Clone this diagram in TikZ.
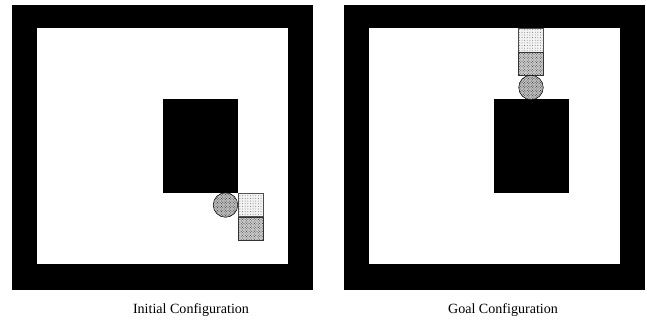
\documentclass[tikz,border=0pt]{standalone}
\usepackage{fontspec}
\setmainfont{Liberation Serif}
\usetikzlibrary{patterns}
\tikzset{
	wall/.style={fill=black,minimum width=3cm,minimum height=3.76cm,inner sep=0pt,outer sep=0pt},
	darkbox/.style={draw=black!80,fill=black!20,pattern color=black!80,minimum width=1cm,minimum height=0.94cm,inner sep=0pt,line width=0.6pt,postaction={pattern=crosshatch dots}},
	lightbox/.style={draw=black!70,fill=black!5,pattern color=black!60,minimum width=1cm,minimum height=0.94cm,inner sep=0pt,line width=0.6pt,postaction={pattern=dots}},
	ball/.style={draw=black,fill=black!25,pattern color=black!85,circle,inner sep=0pt,minimum size=0.98cm,line width=0.6pt,postaction={pattern=crosshatch dots}},
	caption/.style={font=\fontsize{16}{18}\selectfont,inner sep=0pt}
}
\begin{document}
\begin{tikzpicture}[x=0.04cm,y=-0.04cm]
	\useasboundingbox (0,0) rectangle (647,325);

	%Left room
	\fill[black] (12,5) rectangle (313,290);
	\fill[white] (37,28) rectangle (288,264);
	\node[wall] (ObstacleL) at (200.5,146) {};
	\node[lightbox] (TopL) at (250.5,205) {};
	\node[darkbox] (BottomL) at (250.5,229) {};
	\node[ball] (BallL) at (225.5,205) {};

	%Right room
	\fill[black] (344,5) rectangle (645,290);
	\fill[white] (369,28) rectangle (620,264);
	\node[wall] (ObstacleR) at (531.5,146) {};
	\node[lightbox] (TopR) at (531,40.5) {};
	\node[darkbox] (BottomR) at (531,64) {};
	\node[ball] (BallR) at (531,87.5) {};

	%Captions
	\node[caption] (LabelL) at (191,310) {Initial Configuration};
	\node[caption] (LabelR) at (503,310) {Goal Configuration};
\end{tikzpicture}
\end{document}
